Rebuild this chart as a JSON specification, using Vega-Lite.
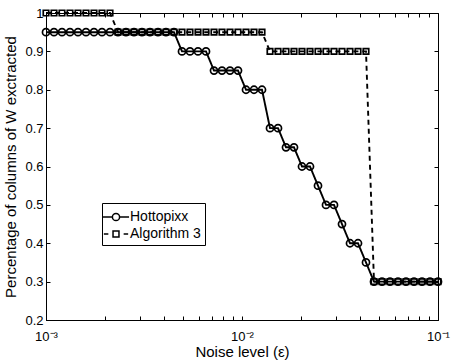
{
  "$schema": "https://vega.github.io/schema/vega-lite/v6.json",
  "width": 392,
  "height": 307,
  "autosize": {"type": "none"},
  "padding": {"left": 46, "top": 13, "right": 16, "bottom": 43},
  "background": "white",
  "config": {
    "font": "Liberation Sans",
    "view": {"stroke": "black", "strokeWidth": 1},
    "axis": {
      "grid": false,
      "domainColor": "black",
      "tickColor": "black",
      "labelColor": "black",
      "titleColor": "black",
      "labelFont": "Liberation Sans",
      "titleFont": "Liberation Sans",
      "labelFontSize": 13,
      "titleFontSize": 15,
      "titleFontWeight": "normal",
      "tickSize": -4,
      "tickWidth": 1
    }
  },
  "data": {
    "values": [
      {"x": 0.001, "Hottopixx": 0.95, "Algorithm 3": 1.0},
      {"x": 0.0010985, "Hottopixx": 0.95, "Algorithm 3": 1.0},
      {"x": 0.0012068, "Hottopixx": 0.95, "Algorithm 3": 1.0},
      {"x": 0.0013257, "Hottopixx": 0.95, "Algorithm 3": 1.0},
      {"x": 0.0014563, "Hottopixx": 0.95, "Algorithm 3": 1.0},
      {"x": 0.0015999, "Hottopixx": 0.95, "Algorithm 3": 1.0},
      {"x": 0.0017575, "Hottopixx": 0.95, "Algorithm 3": 1.0},
      {"x": 0.0019307, "Hottopixx": 0.95, "Algorithm 3": 1.0},
      {"x": 0.0021210, "Hottopixx": 0.95, "Algorithm 3": 1.0},
      {"x": 0.0023300, "Hottopixx": 0.95, "Algorithm 3": 0.95},
      {"x": 0.0025595, "Hottopixx": 0.95, "Algorithm 3": 0.95},
      {"x": 0.0028118, "Hottopixx": 0.95, "Algorithm 3": 0.95},
      {"x": 0.0030888, "Hottopixx": 0.95, "Algorithm 3": 0.95},
      {"x": 0.0033932, "Hottopixx": 0.95, "Algorithm 3": 0.95},
      {"x": 0.0037276, "Hottopixx": 0.95, "Algorithm 3": 0.95},
      {"x": 0.0040949, "Hottopixx": 0.95, "Algorithm 3": 0.95},
      {"x": 0.0044984, "Hottopixx": 0.95, "Algorithm 3": 0.95},
      {"x": 0.0049417, "Hottopixx": 0.9, "Algorithm 3": 0.95},
      {"x": 0.0054287, "Hottopixx": 0.9, "Algorithm 3": 0.95},
      {"x": 0.0059636, "Hottopixx": 0.9, "Algorithm 3": 0.95},
      {"x": 0.0065513, "Hottopixx": 0.9, "Algorithm 3": 0.95},
      {"x": 0.0071969, "Hottopixx": 0.85, "Algorithm 3": 0.95},
      {"x": 0.0079060, "Hottopixx": 0.85, "Algorithm 3": 0.95},
      {"x": 0.0086851, "Hottopixx": 0.85, "Algorithm 3": 0.95},
      {"x": 0.0095410, "Hottopixx": 0.85, "Algorithm 3": 0.95},
      {"x": 0.0104811, "Hottopixx": 0.8, "Algorithm 3": 0.95},
      {"x": 0.0115140, "Hottopixx": 0.8, "Algorithm 3": 0.95},
      {"x": 0.0126486, "Hottopixx": 0.8, "Algorithm 3": 0.95},
      {"x": 0.0138950, "Hottopixx": 0.7, "Algorithm 3": 0.9},
      {"x": 0.0152642, "Hottopixx": 0.7, "Algorithm 3": 0.9},
      {"x": 0.0167683, "Hottopixx": 0.65, "Algorithm 3": 0.9},
      {"x": 0.0184207, "Hottopixx": 0.65, "Algorithm 3": 0.9},
      {"x": 0.0202359, "Hottopixx": 0.6, "Algorithm 3": 0.9},
      {"x": 0.0222300, "Hottopixx": 0.6, "Algorithm 3": 0.9},
      {"x": 0.0244205, "Hottopixx": 0.55, "Algorithm 3": 0.9},
      {"x": 0.0268270, "Hottopixx": 0.5, "Algorithm 3": 0.9},
      {"x": 0.0294705, "Hottopixx": 0.5, "Algorithm 3": 0.9},
      {"x": 0.0323746, "Hottopixx": 0.45, "Algorithm 3": 0.9},
      {"x": 0.0355648, "Hottopixx": 0.4, "Algorithm 3": 0.9},
      {"x": 0.0390694, "Hottopixx": 0.4, "Algorithm 3": 0.9},
      {"x": 0.0429193, "Hottopixx": 0.35, "Algorithm 3": 0.9},
      {"x": 0.0471487, "Hottopixx": 0.3, "Algorithm 3": 0.3},
      {"x": 0.0517947, "Hottopixx": 0.3, "Algorithm 3": 0.3},
      {"x": 0.0568987, "Hottopixx": 0.3, "Algorithm 3": 0.3},
      {"x": 0.0625055, "Hottopixx": 0.3, "Algorithm 3": 0.3},
      {"x": 0.0686649, "Hottopixx": 0.3, "Algorithm 3": 0.3},
      {"x": 0.0754312, "Hottopixx": 0.3, "Algorithm 3": 0.3},
      {"x": 0.0828643, "Hottopixx": 0.3, "Algorithm 3": 0.3},
      {"x": 0.0910298, "Hottopixx": 0.3, "Algorithm 3": 0.3},
      {"x": 0.1, "Hottopixx": 0.3, "Algorithm 3": 0.3}
    ]
  },
  "transform": [{"fold": ["Hottopixx", "Algorithm 3"], "as": ["series", "value"]}],
  "resolve": {
    "axis": {"x": "independent", "y": "independent"},
    "scale": {"shape": "independent", "size": "independent"}
  },
  "layer": [
    {
      "mark": {"type": "line", "color": "black", "strokeWidth": 1.9},
      "encoding": {
        "x": {
          "field": "x", "type": "quantitative",
          "scale": {"type": "log", "domain": [0.001, 0.1], "nice": false},
          "axis": {
            "orient": "bottom",
            "values": [0.001, 0.002, 0.003, 0.004, 0.005, 0.006, 0.007, 0.008, 0.009, 0.01, 0.02, 0.03, 0.04, 0.05, 0.06, 0.07, 0.08, 0.09, 0.1],
            "labelExpr": "datum.value < 0.0015 ? '10⁻³' : (datum.value > 0.0095 && datum.value < 0.011) ? '10⁻²' : datum.value > 0.095 ? '10⁻¹' : ''",
            "labelPadding": 14,
            "labelFlush": false,
            "labelOverlap": false,
            "title": "Noise level (ε)",
            "titlePadding": 1
          }
        },
        "y": {
          "field": "value", "type": "quantitative",
          "scale": {"domain": [0.2, 1], "nice": false, "zero": false},
          "axis": {
            "orient": "left",
            "values": [0.2, 0.3, 0.4, 0.5, 0.6, 0.7, 0.8, 0.9, 1],
            "labelExpr": "datum.value == 1 ? '1' : format(datum.value, '.1f')",
            "labelPadding": 7,
            "title": "Percentage of columns of W exctracted",
            "titlePadding": 6
          }
        },
        "strokeDash": {
          "field": "series", "type": "nominal",
          "scale": {"domain": ["Hottopixx", "Algorithm 3"], "range": [[1, 0], [5, 4]]},
          "legend": null
        }
      }
    },
    {
      "mark": {"type": "point", "filled": false, "color": "black", "strokeWidth": 1.7, "opacity": 1},
      "encoding": {
        "x": {
          "field": "x", "type": "quantitative",
          "scale": {"type": "log", "domain": [0.001, 0.1], "nice": false},
          "axis": {
            "orient": "top",
            "values": [0.001, 0.002, 0.003, 0.004, 0.005, 0.006, 0.007, 0.008, 0.009, 0.01, 0.02, 0.03, 0.04, 0.05, 0.06, 0.07, 0.08, 0.09, 0.1],
            "labels": false,
            "domain": false,
            "title": null
          }
        },
        "y": {
          "field": "value", "type": "quantitative",
          "scale": {"domain": [0.2, 1], "nice": false, "zero": false},
          "axis": {
            "orient": "right",
            "values": [0.2, 0.3, 0.4, 0.5, 0.6, 0.7, 0.8, 0.9, 1],
            "labels": false,
            "domain": false,
            "title": null
          }
        },
        "shape": {
          "field": "series", "type": "nominal",
          "scale": {"domain": ["Hottopixx", "Algorithm 3"], "range": ["circle", "square"]},
          "legend": null
        },
        "size": {
          "field": "series", "type": "nominal",
          "scale": {"domain": ["Hottopixx", "Algorithm 3"], "range": [50, 30]},
          "legend": null
        }
      }
    },
    {
      "mark": {"type": "point", "filled": false, "color": "black", "opacity": 0, "size": 1},
      "encoding": {
        "x": {"field": "x", "type": "quantitative", "scale": {"type": "log", "domain": [0.001, 0.1], "nice": false}, "axis": null},
        "y": {"field": "value", "type": "quantitative", "scale": {"domain": [0.2, 1], "nice": false, "zero": false}, "axis": null},
        "shape": {
          "field": "series", "type": "nominal",
          "scale": {
            "domain": ["Hottopixx", "Algorithm 3"],
            "range": [
              "M-1.45,0H-0.4M0.4,0H1.45M0.4,0A0.4,0.4 0 1,1 -0.4,0A0.4,0.4 0 1,1 0.4,0",
              "M-1.35,0H-0.85M0.85,0H1.35M-0.33,-0.33H0.33V0.33H-0.33Z"
            ]
          },
          "legend": {
            "title": null,
            "orient": "none",
            "legendX": 56,
            "legendY": 190,
            "strokeColor": "black",
            "fillColor": "white",
            "padding": 4,
            "cornerRadius": 0,
            "labelFont": "Liberation Sans",
            "labelFontSize": 14,
            "labelColor": "black",
            "labelOffset": 4,
            "rowPadding": 0,
            "symbolSize": 324,
            "symbolStrokeWidth": 1.5,
            "symbolStrokeColor": "black",
            "symbolFillColor": "transparent",
            "symbolOpacity": 1
          }
        }
      }
    }
  ]
}
